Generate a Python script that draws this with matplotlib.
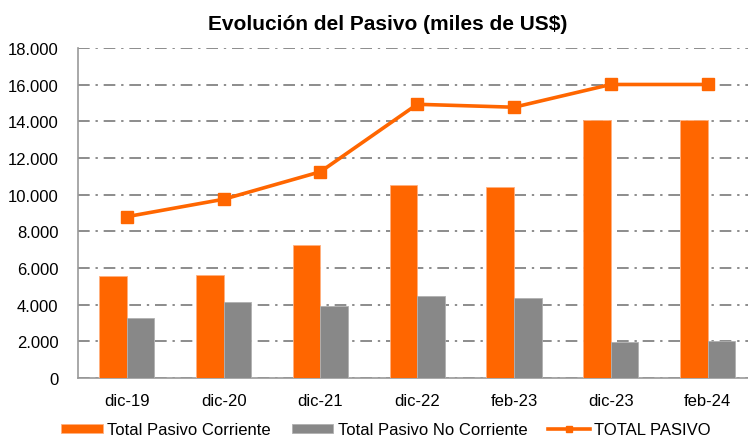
import numpy as np
import matplotlib
matplotlib.use('Agg')
import matplotlib.pyplot as plt
from matplotlib.ticker import FuncFormatter

plt.rcParams['font.family'] = ['Liberation Sans', 'DejaVu Sans']

# Data (miles de US$)
periodos = ['dic-19', 'dic-20', 'dic-21', 'dic-22', 'feb-23', 'dic-23', 'feb-24']
pasivo_corriente = [5580, 5640, 7260, 10530, 10440, 14070, 14070]
pasivo_no_corriente = [3260, 4130, 3950, 4490, 4350, 1950, 2020]
total_pasivo = [8800, 9750, 11250, 14930, 14770, 16010, 16010]

orange = '#ff6600'
gray = '#888888'

fig = plt.figure(figsize=(7.48, 4.39), dpi=100)
# axes run past the right border of the figure, as in the original
ax = fig.add_axes([78 / 748, 60 / 439, 678 / 748, 330 / 439])

x = np.arange(len(periodos))
w = 0.285
b1 = ax.bar(x - w / 2, pasivo_corriente, width=w, color=orange,
            edgecolor='#ffb080', linewidth=0.6, label='Total Pasivo Corriente', zorder=3)
b2 = ax.bar(x + w / 2, pasivo_no_corriente, width=w, color=gray,
            edgecolor='#b0b0b0', linewidth=0.6, label='Total Pasivo No Corriente', zorder=3)
l1, = ax.plot(x, total_pasivo, color=orange, linewidth=2.6, marker='s',
              markersize=8, label='TOTAL PASIVO', zorder=4)

ax.set_xlim(-0.505, 6.5)
ax.set_ylim(0, 18000)
ax.set_yticks(np.arange(0, 18001, 2000))
ax.yaxis.set_major_formatter(FuncFormatter(lambda v, p: f'{int(v):,}'.replace(',', '.')))
ax.set_xticks(x)
ax.set_xticklabels(periodos)

ax.grid(axis='y', color='#8c8c8c', linewidth=1.4, linestyle=(0, (6, 3, 1.2, 3)), zorder=0)
ax.set_axisbelow(True)

for s in ['top', 'right']:
    ax.spines[s].set_visible(False)
for s in ['left', 'bottom']:
    ax.spines[s].set_color('#999999')
    ax.spines[s].set_linewidth(1.2)

ax.tick_params(axis='y', length=0, pad=14, labelsize=12, colors='#000000')
ax.tick_params(axis='x', length=0, pad=11, labelsize=12)

fig.text(388 / 748, 1 - 24 / 439, 'Evolución del Pasivo (miles de US$)',
         ha='center', va='center', fontsize=15, fontweight='bold')

fig.legend([b1, b2, l1], [b1.get_label(), b2.get_label(), l1.get_label()],
           loc='center', bbox_to_anchor=(386 / 748, 1 - 431 / 439), ncol=3,
           frameon=False, fontsize=12, handlelength=2.5, handleheight=0.5,
           handletextpad=0.25, columnspacing=1.25, borderaxespad=0, markerscale=0.5)

fig.savefig('out.png', dpi=100)
